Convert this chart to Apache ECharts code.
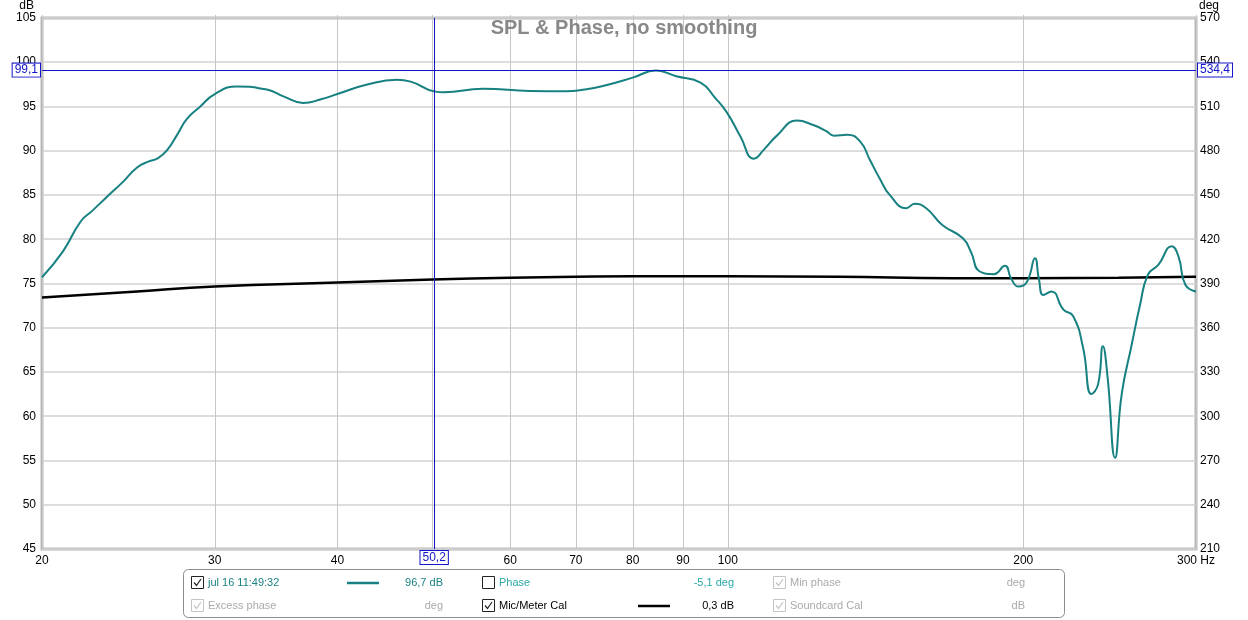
<!DOCTYPE html>
<html>
<head>
<meta charset="utf-8">
<script src="https://cdn.jsdelivr.net/npm/echarts@6/dist/echarts.min.js"></script>
<style>
html,body{margin:0;padding:0;background:#fff;}
#chart{width:1248px;height:620px;}
</style>
</head>
<body>
<div id="chart"></div>
<script>
// ---- data ----
const splFreq = [20,21,21.9,22.5,23.3,24.2,25.0,25.7,26.2,26.8,27.5,28.1,29.0,30.0,31.6,33.9,35.3,36.9,38.5,40.0,43.0,46.0,47.5,50.2,51.3,56.3,62.8,68.4,71.5,74.6,80.0,84.5,88.6,93.8,97.0,99.8,103,106.3,109,112.2,117.6,122.2,126,128.3,132.3,136.5,139.5,142.9,146.2,152.0,155.0,159.3,165.4,173.6,177,180.6,186.6,191.6,194.5,197.8,201.8,205.6,207.5,209.7,213.7,219.8,224.9,230.2,234.7,238.4,241.1,243.8,248.1,252.0,258.0,263,268.0,274.6,283.4,288.0,292.6,300];
const splDb = [75.7,78.6,82.0,83.2,84.8,86.5,88.1,88.8,89.1,90.0,91.9,93.6,95.0,96.4,97.25,96.9,96.1,95.4,95.8,96.4,97.5,98.0,97.8,96.7,96.6,97.0,96.75,96.7,96.9,97.3,98.25,99.05,98.4,97.7,96.0,94.3,91.6,89.1,90.2,91.7,93.4,92.9,92.2,91.7,91.8,91.0,89.0,86.8,85.0,83.5,84.0,83.5,81.6,80.1,78.5,76.35,76.05,77.0,75.5,74.65,75.2,77.85,75.5,73.7,74.1,72.05,71.3,67.7,62.5,63.6,67.9,64.4,55.3,62.5,68.1,72.5,76.0,77.1,79.2,78.0,74.85,74.1];
const calFreq = [20,25,30,40,50,60,70,80,100,130,170,200,250,300];
const calDb = [73.4,74.1,74.65,75.1,75.45,75.65,75.75,75.8,75.8,75.75,75.6,75.6,75.65,75.75];
const xTicks = [20,30,40,50,60,70,80,90,100,200,300];
const xLabelTicks = [20,30,40,60,70,80,90,100,200,300];
const cursorFreq = 50.2;
const cursorDb = 99.1;
const cursorLabels = {freq:'50,2', db:'99,1', deg:'534,4'};
const titleText = 'SPL & Phase, no smoothing';
// legend rows: [checkbox state, label, value, colour]
const legendRow1 = [
  {check:'on', label:'jul 16 11:49:32', value:'96,7 dB', color:'#1a8080', line:'#178080'},
  {check:'off', label:'Phase', value:'-5,1 deg', color:'#2aa8a8'},
  {check:'grey', label:'Min phase', value:'deg', color:'#aaaaaa'}
];
const legendRow2 = [
  {check:'grey', label:'Excess phase', value:'deg', color:'#aaaaaa'},
  {check:'on', label:'Mic/Meter Cal', value:'0,3 dB', color:'#000000', line:'#000000'},
  {check:'grey', label:'Soundcard Cal', value:'dB', color:'#aaaaaa'}
];

const FONT = "'Liberation Sans', Arial, sans-serif";
const chart = echarts.init(document.getElementById('chart'));

function pairs(xs, ys){ return xs.map((x,i)=>[x, ys[i]]); }

// legend graphics
const g = [];
g.push({type:'rect', shape:{x:183.5,y:569.5,width:881,height:48,r:5}, style:{fill:'#fff', stroke:'#8c8c8c', lineWidth:1}, z:10});
const colX = [191, 482, 773];
const valRight = [443, 734, 1025];
const lineX = [347, 638];
function addItem(item, col, y){
  const cx = colX[col];
  const boxColor = item.check === 'grey' ? '#c4c4c4' : '#222';
  g.push({type:'rect', shape:{x:cx+0.5, y:y-6.5, width:12, height:12}, style:{fill:'#fff', stroke:boxColor, lineWidth:1}, z:11});
  if (item.check !== 'off') {
    g.push({type:'polyline', shape:{points:[[cx+3,y-0.5],[cx+5.5,y+2.5],[cx+10,y-4]]}, style:{stroke:boxColor, lineWidth:1.2, fill:null}, z:12});
  }
  g.push({type:'text', x:cx+17, y:y, style:{text:item.label, fill:item.color, font:'11px '+FONT, verticalAlign:'middle', align:'left'}, z:11});
  g.push({type:'text', x:valRight[col], y:y, style:{text:item.value, fill:item.color, font:'11px '+FONT, verticalAlign:'middle', align:'right'}, z:11});
  if (item.line) {
    g.push({type:'line', shape:{x1:lineX[col], y1:y, x2:lineX[col]+32, y2:y}, style:{stroke:item.line, lineWidth:2.5}, z:11});
  }
}
legendRow1.forEach((it,i)=>addItem(it,i,583));
legendRow2.forEach((it,i)=>addItem(it,i,606));

const cursorLabelStyle = {
  color:'#1414c8', fontSize:12, fontFamily:FONT,
  backgroundColor:'#fff', borderColor:'#1414c8', borderWidth:1,
  padding:[1,2,0,2], distance:2
};

const option = {
  animation:false,
  backgroundColor:'#fff',
  title:{text:titleText, left:'center', top:13, textStyle:{color:'#888', fontSize:20, fontWeight:'bold', fontFamily:FONT}},
  grid:{left:42, right:52, top:15, bottom:71, show:true, borderColor:'#b8b8b8', borderWidth:3, backgroundColor:'transparent'},
  xAxis:{
    type:'log', logBase:10, min:20, max:300,
    axisLine:{show:false},
    splitLine:{show:false},
    minorSplitLine:{show:false},
    axisTick:{show:true, inside:true, length:534, customValues:xTicks, lineStyle:{color:'#c6c6c6', width:1}},
    axisLabel:{customValues:xLabelTicks, margin:6, color:'#000', fontSize:12, fontFamily:FONT,
      formatter:(v)=> (Math.round(v)===300 ? '300 Hz' : String(Math.round(v)))}
  },
  yAxis:[
    {type:'value', min:45, max:105, interval:5, position:'left',
     name:'dB', nameLocation:'end', nameGap:2,
     nameTextStyle:{color:'#000', fontSize:12, fontFamily:FONT, align:'right', padding:[0,8,0,0]},
     axisLine:{show:false}, axisTick:{show:false},
     splitLine:{show:true, lineStyle:{color:'#d2d2d2', width:1.5}},
     axisLabel:{color:'#000', fontSize:12, fontFamily:FONT, margin:6}},
    {type:'value', min:210, max:570, interval:30, position:'right',
     name:'deg', nameLocation:'end', nameGap:2,
     nameTextStyle:{color:'#000', fontSize:12, fontFamily:FONT, align:'left', padding:[0,0,0,3]},
     axisLine:{show:false}, axisTick:{show:false}, splitLine:{show:false},
     axisLabel:{color:'#000', fontSize:12, fontFamily:FONT, margin:4}}
  ],
  series:[
    {name:'Mic/Meter Cal', type:'line', data:pairs(calFreq, calDb), showSymbol:false, smooth:0.5,
     lineStyle:{color:'#000', width:2.5}, z:3},
    {name:'jul 16 11:49:32', type:'line', data:pairs(splFreq, splDb), showSymbol:false, smooth:0.5,
     lineStyle:{color:'#178080', width:2}, z:4,
     markLine:{silent:true, symbol:['none','none'], animation:false,
       lineStyle:{color:'#1414c8', width:1, type:'solid'},
       data:[
         {yAxis:cursorDb, label:Object.assign({position:'start', formatter:cursorLabels.db}, cursorLabelStyle)},
         {yAxis:cursorDb, label:Object.assign({position:'end', formatter:cursorLabels.deg}, cursorLabelStyle)},
         {xAxis:cursorFreq, label:Object.assign({position:'start', formatter:cursorLabels.freq}, cursorLabelStyle)}
       ]}}
  ],
  graphic:g
};
chart.setOption(option);
</script>
</body>
</html>
